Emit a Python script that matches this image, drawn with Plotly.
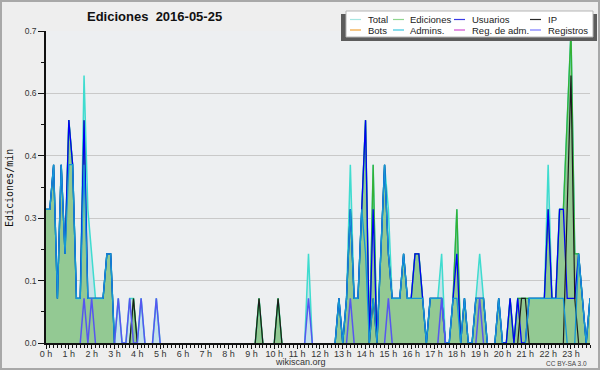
import plotly.graph_objects as go

# ---- data: 10-minute bins from 00:00 to 23:50, values in edits per minute ----
edits = [
    0.3, 0.3, 0.4, 0.1, 0.4, 0.2, 0.5, 0.4, 0.1, 0.1, 0.5, 0.1,
    0.1, 0.1, 0.1, 0.1, 0.2, 0.2, 0, 0, 0, 0, 0, 0.1,
    0, 0, 0, 0, 0, 0, 0, 0, 0, 0, 0, 0,
    0, 0, 0, 0, 0, 0, 0, 0, 0, 0, 0, 0,
    0, 0, 0, 0, 0, 0, 0, 0, 0.1, 0, 0, 0,
    0, 0.1, 0, 0, 0, 0, 0, 0, 0, 0, 0, 0,
    0, 0, 0, 0, 0, 0.1, 0, 0.1, 0.3, 0.1, 0.1, 0.3,
    0.5, 0, 0.4, 0, 0.2, 0.4, 0.2, 0.1, 0.1, 0.1, 0.2, 0.1,
    0.1, 0.2, 0.2, 0.1, 0, 0.1, 0.1, 0.1, 0.1, 0, 0, 0.1,
    0.3, 0, 0.1, 0, 0, 0.1, 0.1, 0.1, 0, 0, 0, 0.1,
    0, 0, 0.1, 0, 0.1, 0.1, 0.1, 0.1, 0.1, 0.1, 0.1, 0.1,
    0.3, 0.1, 0.1, 0.3, 0.3, 0.5, 0.7, 0.2, 0.2, 0.1, 0, 0.1,
]
total = [
    0.3, 0.3, 0.4, 0.1, 0.4, 0.2, 0.5, 0.4, 0.1, 0.1, 0.6, 0.3,
    0.2, 0.1, 0.1, 0.1, 0.2, 0.2, 0, 0.1, 0, 0, 0.1, 0.1,
    0, 0.1, 0, 0, 0, 0.1, 0, 0, 0, 0, 0, 0,
    0, 0, 0, 0, 0, 0, 0, 0, 0, 0, 0, 0,
    0, 0, 0, 0, 0, 0, 0, 0, 0.1, 0, 0, 0,
    0, 0.1, 0, 0, 0, 0, 0, 0, 0, 0.2, 0, 0,
    0, 0, 0, 0, 0, 0.1, 0, 0.1, 0.4, 0.1, 0.1, 0.3,
    0.5, 0, 0.4, 0, 0.2, 0.4, 0.3, 0.1, 0.1, 0.1, 0.2, 0.1,
    0.1, 0.2, 0.2, 0.1, 0, 0.1, 0.1, 0.1, 0.2, 0, 0, 0.1,
    0.3, 0, 0.1, 0, 0, 0.1, 0.2, 0.1, 0, 0, 0, 0.1,
    0, 0, 0.1, 0, 0.1, 0.1, 0.1, 0.1, 0.1, 0.1, 0.1, 0.1,
    0.4, 0.1, 0.1, 0.3, 0.3, 0.5, 0.7, 0.2, 0.2, 0.1, 0, 0.1,
]
users = [
    0.3, 0.3, 0.4, 0.1, 0.4, 0.2, 0.5, 0.4, 0.1, 0.1, 0.5, 0.1,
    0.1, 0.1, 0.1, 0.1, 0.2, 0.2, 0, 0, 0, 0, 0, 0,
    0, 0, 0, 0, 0, 0, 0, 0, 0, 0, 0, 0,
    0, 0, 0, 0, 0, 0, 0, 0, 0, 0, 0, 0,
    0, 0, 0, 0, 0, 0, 0, 0, 0, 0, 0, 0,
    0, 0, 0, 0, 0, 0, 0, 0, 0, 0, 0, 0,
    0, 0, 0, 0, 0, 0.1, 0, 0.1, 0.3, 0.1, 0.1, 0.3,
    0.5, 0, 0.3, 0, 0.2, 0.4, 0.2, 0.1, 0.1, 0.1, 0.2, 0.1,
    0.1, 0.2, 0.2, 0.1, 0, 0.1, 0.1, 0.1, 0.1, 0, 0, 0.1,
    0.2, 0, 0.1, 0, 0, 0.1, 0.1, 0.1, 0, 0, 0, 0.1,
    0, 0, 0.1, 0, 0.1, 0, 0, 0.1, 0.1, 0.1, 0.1, 0.1,
    0.3, 0.1, 0.1, 0.3, 0.3, 0.1, 0.1, 0.1, 0.2, 0.1, 0, 0.1,
]
ip = [
    0, 0, 0, 0, 0, 0, 0, 0, 0, 0, 0, 0,
    0, 0, 0, 0, 0, 0, 0, 0, 0, 0, 0, 0.1,
    0, 0, 0, 0, 0, 0, 0, 0, 0, 0, 0, 0,
    0, 0, 0, 0, 0, 0, 0, 0, 0, 0, 0, 0,
    0, 0, 0, 0, 0, 0, 0, 0, 0.1, 0, 0, 0,
    0, 0.1, 0, 0, 0, 0, 0, 0, 0, 0, 0, 0,
    0, 0, 0, 0, 0, 0, 0, 0, 0, 0, 0, 0,
    0, 0, 0.1, 0, 0, 0, 0, 0, 0, 0, 0, 0,
    0, 0, 0, 0, 0, 0, 0, 0, 0, 0, 0, 0,
    0, 0, 0, 0, 0, 0, 0, 0, 0, 0, 0, 0,
    0, 0, 0, 0, 0, 0.1, 0.1, 0, 0, 0, 0, 0,
    0, 0, 0, 0, 0, 0.3, 0.6, 0.1, 0, 0, 0, 0,
]
admins = [
    0.3, 0.3, 0.4, 0.1, 0.4, 0.2, 0.4, 0.4, 0.1, 0.1, 0.4, 0.1,
    0.1, 0.1, 0.1, 0.1, 0.2, 0.2, 0, 0, 0, 0, 0, 0,
    0, 0, 0, 0, 0, 0, 0, 0, 0, 0, 0, 0,
    0, 0, 0, 0, 0, 0, 0, 0, 0, 0, 0, 0,
    0, 0, 0, 0, 0, 0, 0, 0, 0, 0, 0, 0,
    0, 0, 0, 0, 0, 0, 0, 0, 0, 0, 0, 0,
    0, 0, 0, 0, 0, 0.1, 0, 0.1, 0.3, 0.1, 0.1, 0.3,
    0.2, 0, 0.1, 0, 0.2, 0.4, 0.2, 0.1, 0.1, 0.1, 0.2, 0.1,
    0.1, 0.1, 0.1, 0.1, 0, 0.1, 0.1, 0.1, 0.1, 0, 0, 0.1,
    0.1, 0, 0.1, 0, 0, 0.1, 0.1, 0.1, 0, 0, 0, 0.1,
    0, 0, 0, 0, 0, 0, 0, 0.1, 0.1, 0.1, 0.1, 0.1,
    0.1, 0.1, 0.1, 0.1, 0.1, 0, 0, 0, 0.2, 0.1, 0, 0.1,
]
logs = [
    0, 0, 0, 0, 0, 0, 0, 0, 0, 0, 0.1, 0,
    0.1, 0, 0, 0, 0, 0, 0, 0.1, 0, 0, 0.1, 0,
    0, 0.1, 0, 0, 0, 0.1, 0, 0, 0, 0, 0, 0,
    0, 0, 0, 0, 0, 0, 0, 0, 0, 0, 0, 0,
    0, 0, 0, 0, 0, 0, 0, 0, 0, 0, 0, 0,
    0, 0, 0, 0, 0, 0, 0, 0, 0, 0.1, 0, 0,
    0, 0, 0, 0, 0, 0, 0, 0, 0.1, 0, 0, 0,
    0, 0, 0, 0, 0, 0, 0.1, 0, 0, 0, 0, 0,
    0, 0, 0, 0, 0, 0, 0, 0, 0.1, 0, 0, 0,
    0, 0, 0, 0, 0, 0, 0.1, 0, 0, 0, 0, 0,
    0, 0, 0, 0, 0, 0, 0, 0, 0, 0, 0, 0,
    0, 0, 0, 0, 0, 0, 0, 0, 0, 0, 0, 0,
]
hours = list(range(24))
hour_labels = [f"{h} h" for h in hours]
ytick_vals = [0, 0.14, 0.28, 0.42, 0.56, 0.70]
ytick_text = ["0.0", "0.1", "0.3", "0.4", "0.6", "0.7"]
legend_names = ["Total", "Ediciones", "Usuarios", "IP",
                "Bots", "Admins.", "Reg. de adm.", "Registros"]
legend_colors = ["#a6e6e2", "#8fd68f", "#3a3ae6", "#2a2a2a",
                 "#f0a33a", "#3cc6e0", "#d04fd0", "#7878ff"]

# time axis: bin index -> hours
t = [i / 6 for i in range(len(edits))]


def hide_idle(vals):
    """Drop zero points whose neighbours are also zero, so idle stretches
    do not draw a line along the axis (as in the original chart)."""
    out = []
    n = len(vals)
    for i, v in enumerate(vals):
        prev_v = vals[i - 1] if i > 0 else 0
        next_v = vals[i + 1] if i < n - 1 else 0
        out.append(None if (v == 0 and prev_v == 0 and next_v == 0) else v)
    return out


# ---- pixel helpers for decorations (plot area 46..590 x 31..343) ----
L, R_, T_, B_ = 46, 590, 31, 343
def px(x):
    return (x - L) / (R_ - L)
def py(y):
    return (B_ - y) / (B_ - T_)

fig = go.Figure()
fig.add_trace(go.Scatter(x=t, y=total, mode="lines", fill="tozeroy",
                         fillcolor="#c7e2ea", line=dict(width=0),
                         showlegend=False, hoverinfo="skip"))
fig.add_trace(go.Scatter(x=t, y=edits, mode="lines", fill="tozeroy",
                         fillcolor="#93c993", line=dict(width=0),
                         showlegend=False, hoverinfo="skip"))
line_specs = [
    (total, "#3fdccf", 1.5),
    (edits, "#34b034", 1.3),
    (users, "#0000f5", 1.3),
    (ip, "#1c1c1c", 1.2),
    (admins, "#1597d6", 1.3),
    (logs, "#5656f0", 1.5),
]
for ys, col, w in line_specs:
    fig.add_trace(go.Scatter(x=t, y=hide_idle(ys), mode="lines",
                             line=dict(color=col, width=w), connectgaps=False,
                             showlegend=False, hoverinfo="skip"))

shapes = []
annotations = []
# outer frame
shapes.append(dict(type="rect", xref="paper", yref="paper",
                   x0=px(1), x1=px(599), y0=py(369), y1=py(1),
                   line=dict(color="#a8a8a8", width=2), fillcolor="rgba(0,0,0,0)",
                   layer="above"))
# legend box with shadow
shapes.append(dict(type="rect", xref="paper", yref="paper",
                   x0=px(341), x1=px(597), y0=py(41), y1=py(14),
                   line=dict(width=0), fillcolor="#5c5c5c", layer="above"))
shapes.append(dict(type="rect", xref="paper", yref="paper",
                   x0=px(346), x1=px(593), y0=py(37), y1=py(11),
                   line=dict(color="#b5b5b5", width=1), fillcolor="white",
                   layer="above"))
col_line_x = [350, 393, 454, 530]
col_text_x = [366, 408, 470, 546]
row_y = [19.5, 30]
for k, (name, col) in enumerate(zip(legend_names, legend_colors)):
    r, c = divmod(k, 4)
    yy = row_y[r]
    shapes.append(dict(type="line", xref="paper", yref="paper",
                       x0=px(col_line_x[c]), x1=px(col_line_x[c] + 11),
                       y0=py(yy), y1=py(yy),
                       line=dict(color=col, width=1.2), layer="above"))
    annotations.append(dict(text=name, xref="paper", yref="paper",
                            x=px(col_text_x[c]), y=py(yy), xanchor="left",
                            yanchor="middle", showarrow=False,
                            font=dict(family="Liberation Sans", size=9.5, color="#222")))

annotations += [
    dict(text="<b>Ediciones\u00a0 2016-05-25</b>", xref="paper", yref="paper",
         x=px(154), y=py(17), xanchor="center", yanchor="middle", showarrow=False,
         font=dict(family="Liberation Sans", size=13, color="#111")),
    dict(text="Ediciones/min", xref="paper", yref="paper", textangle=-90,
         x=px(9), y=py(188), xanchor="center", yanchor="middle", showarrow=False,
         font=dict(family="DejaVu Sans Mono", size=10, color="#111")),
    dict(text="wikiscan.org", xref="paper", yref="paper",
         x=px(300), y=py(362), xanchor="center", yanchor="middle", showarrow=False,
         font=dict(family="Liberation Sans", size=9, color="#333")),
    dict(text="CC BY-SA 3.0", xref="paper", yref="paper",
         x=px(589), y=py(363), xanchor="right", yanchor="middle", showarrow=False,
         font=dict(family="Liberation Sans", size=6.5, color="#444")),
]

fig.update_layout(
    width=600, height=370,
    margin=dict(l=L, r=600 - R_, t=T_, b=370 - B_),
    paper_bgcolor="#eeeeee", plot_bgcolor="#edeff1",
    showlegend=False,
    shapes=shapes, annotations=annotations,
    xaxis=dict(range=[0, t[-1]], tickmode="array", tickvals=hours, ticktext=hour_labels,
               ticks="outside", ticklen=4, tickwidth=1, tickcolor="#111",
               showline=True, linecolor="#111", linewidth=1.5,
               showgrid=False, zeroline=False, layer="above traces",
               ticklabelstandoff=-3,
               tickfont=dict(family="Liberation Sans", size=9, color="#333"),
               minor=dict(tickmode="linear", tick0=0, dtick=1 / 6, ticks="outside",
                          ticklen=3, tickcolor="#111", showgrid=False),
               fixedrange=True),
    yaxis=dict(range=[0, 0.7], tickmode="array", tickvals=ytick_vals, ticktext=ytick_text,
               ticks="outside", ticklen=6, tickwidth=1, tickcolor="#111",
               showline=True, linecolor="#111", linewidth=1.5,
               showgrid=True, gridcolor="#c9c9c9", gridwidth=1, zeroline=False,
               layer="above traces",
               tickfont=dict(family="Liberation Sans", size=8.5, color="#333"),
               minor=dict(tickmode="linear", tick0=0, dtick=0.07, ticks="outside",
                          ticklen=3, tickcolor="#111", showgrid=False),
               fixedrange=True),
)
fig.write_html("out.html")
